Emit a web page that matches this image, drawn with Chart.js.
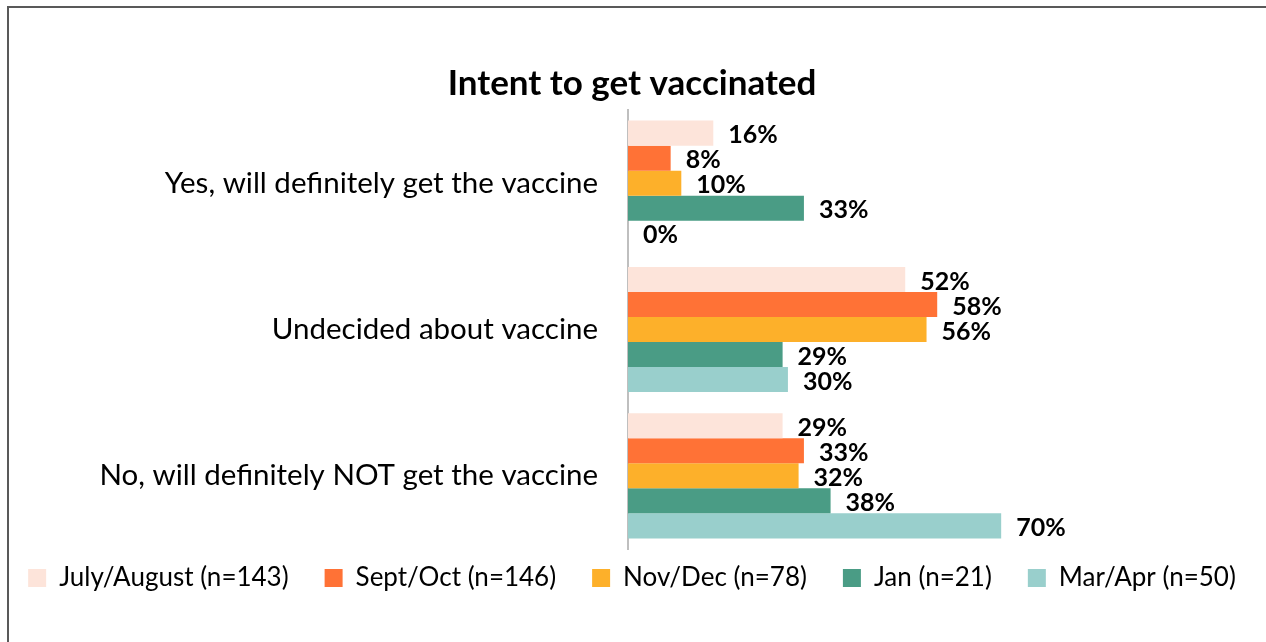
<!DOCTYPE html>
<html>
<head>
<meta charset="utf-8">
<script src="https://cdn.jsdelivr.net/npm/chart.js@4"></script>
<style>
  html, body { margin: 0; padding: 0; background: #fff; }
  #wrap { position: relative; width: 1266px; height: 642px; }
  #frame { position: absolute; left: 7px; top: 6px; right: 0; bottom: 0;
           border-left: 2px solid #595959; border-top: 2px solid #595959; }
  canvas { position: absolute; left: 0; top: 0; }
</style>
</head>
<body>
<div id="wrap">
  <div id="frame"></div>
  <canvas id="intent-chart" width="1266" height="642"></canvas>
</div>
<script>
// categories (top to bottom)
var answers = ['Yes, will definitely get the vaccine', 'Undecided about vaccine', 'No, will definitely NOT get the vaccine'];

// survey waves
var waves = ['July/August (n=143)', 'Sept/Oct (n=146)', 'Nov/Dec (n=78)', 'Jan (n=21)', 'Mar/Apr (n=50)'];

// percent per wave, in the order of answers
var julyAug = [16, 52, 29];
var septOct = [8, 58, 33];
var novDec = [10, 56, 32];
var jan = [33, 29, 38];
var marApr = [0, 30, 70];

var waveColors = ['#FDE4DA', '#FF7236', '#FDB02A', '#4A9C85', '#99CFCC'];

var font = 'Lato, "Open Sans", sans-serif';

// draws the "16%" labels next to each bar
var valueLabels = {
    id: 'valueLabels',
    afterDatasetsDraw: function (chart) {
        var ctx = chart.ctx;
        ctx.save();
        ctx.font = 'bold 25px ' + font;
        ctx.fillStyle = '#000';
        ctx.textAlign = 'left';
        ctx.textBaseline = 'middle';
        chart.data.datasets.forEach(function (ds, i) {
            chart.getDatasetMeta(i).data.forEach(function (bar, j) {
                ctx.fillText(ds.data[j] + '%', bar.x + 15, bar.y + 2);
            });
        });
        ctx.restore();
    }
};

var seriesData = [julyAug, septOct, novDec, jan, marApr];

new Chart(document.getElementById('intent-chart'), {
    type: 'bar',
    data: {
        labels: answers,
        datasets: waves.map(function (w, i) {
            return {
                label: w,
                data: seriesData[i],
                backgroundColor: waveColors[i],
                borderWidth: 0,
                barPercentage: 1.0,
                categoryPercentage: 0.855
            };
        })
    },
    options: {
        indexAxis: 'y',
        responsive: false,
        animation: false,
        layout: { padding: { top: 63, bottom: 41, left: 0, right: 2 } },
        scales: {
            x: {
                display: false,
                min: 0,
                max: 119.3
            },
            y: {
                grid: { display: false, drawTicks: false },
                border: { display: true, color: '#BFBFBF', width: 2 },
                ticks: {
                    color: '#000',
                    padding: 30,
                    font: { family: font, size: 29.5 }
                },
                afterFit: function (scale) { scale.width = 628; }
            }
        },
        plugins: {
            title: {
                display: true,
                text: 'Intent to get vaccinated',
                color: '#000',
                font: { family: font, size: 35, weight: 'bold' },
                padding: { top: 0, bottom: 5 }
            },
            legend: {
                position: 'bottom',
                labels: {
                    color: '#000',
                    boxWidth: 18,
                    boxHeight: 18,
                    padding: 16,
                    font: { family: font, size: 26 },
                    generateLabels: function (chart) {
                        var items = Chart.defaults.plugins.legend.labels.generateLabels(chart);
                        // wider gap between entries, like the original legend
                        items.forEach(function (it, i) {
                            if (i < items.length - 1) it.text += '\u00a0\u00a0\u00a0';
                        });
                        return items;
                    }
                }
            },
            tooltip: { enabled: false }
        }
    },
    plugins: [valueLabels]
});
</script>
</body>
</html>
